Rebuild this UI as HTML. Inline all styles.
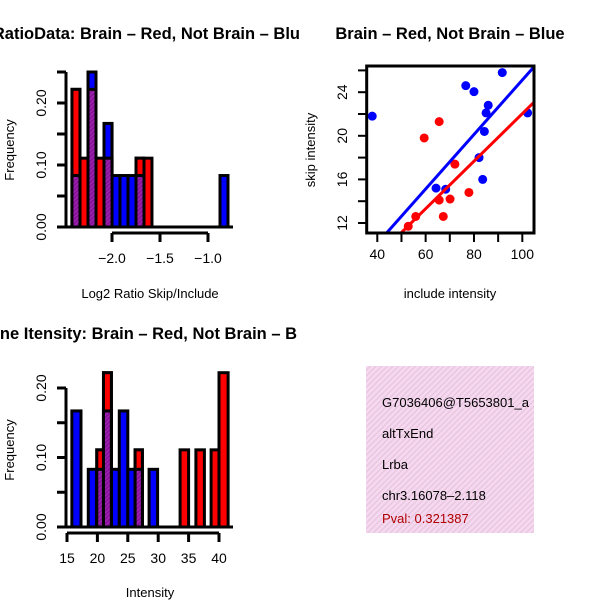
<!DOCTYPE html>
<html><head><meta charset="utf-8"><style>
html,body{margin:0;padding:0;background:#fff;}
svg{display:block;font-family:"Liberation Sans",sans-serif;}
</style></head><body>
<svg id="chart" width="600" height="600" viewBox="0 0 600 600">
<defs>
<clipPath id="leftclip"><rect x="0" y="0" width="300" height="600"/></clipPath>
<clipPath id="scclip"><rect x="367" y="66" width="167" height="167"/></clipPath>
<pattern id="hatch" width="4" height="4" patternUnits="userSpaceOnUse" patternTransform="rotate(45)">
<rect width="4" height="4" fill="#f6d8f2"/><rect width="1.5" height="4" fill="#e8c8dc"/></pattern>
<pattern id="purp" width="3" height="3" patternUnits="userSpaceOnUse" patternTransform="rotate(45)">
<rect width="3" height="3" fill="#a020b0"/><rect width="1.2" height="3" fill="#7a1090"/></pattern>
</defs>
<g clip-path="url(#leftclip)">
<text x="300" y="39" font-size="16.5" font-weight="bold" text-anchor="end">RatioData: Brain – Red, Not Brain – Blu</text>
<text x="297" y="339" font-size="16.5" font-weight="bold" text-anchor="end">Gene Itensity: Brain – Red, Not Brain – B</text>
</g>
<text x="450" y="39" font-size="16.5" font-weight="bold" text-anchor="middle">Brain – Red, Not Brain – Blue</text>
<g id="h1"></g>
<g id="h2"></g>
<g id="sc"></g>
<g>
<rect x="366" y="366" width="168" height="167" fill="url(#hatch)"/>
<svg x="366" y="366" width="168" height="167">
<text x="16" y="41" font-size="13">G7036406@T5653801_a</text>
<text x="16" y="72" font-size="13">altTxEnd</text>
<text x="16" y="103" font-size="13">Lrba</text>
<text x="16" y="134" font-size="13">chr3.16078–2.118</text>
<text x="16" y="157" font-size="13" fill="#b00000">Pval: 0.321387</text>
</svg>
</g>
</svg>
<script>
// Ratio histogram data
const r1Left=[-2.417,-2.333,-2.25,-2.167,-2.083,-1.75,-1.667];
const r1Freq=[0.222,0.111,0.222,0.111,0.111,0.111,0.111];
const b1Left=[-2.417,-2.25,-2.083,-2.0,-1.917,-1.833,-1.75,-0.875];
const b1Freq=[0.083,0.25,0.167,0.083,0.083,0.083,0.083,0.083];
const h1Width=0.0833;
const h1XTicks=[-2.0,-1.5,-1.0];
const h1YTicks=[0,0.05,0.10,0.15,0.20,0.25];
const h1YLabels=["0.00","","0.10","","0.20",""];
// Intensity histogram data
const r2Left=[19.9,21.0,26.2,33.6,36.2,38.7,40.0];
const r2Right=[21.0,22.3,27.4,35.0,37.6,40.0,41.5];
const r2Freq=[0.111,0.222,0.111,0.111,0.111,0.111,0.222];
const b2Left=[15.8,18.5,19.9,21.0,22.3,23.6,25.0,26.2,28.5];
const b2Right=[17.3,19.9,21.0,22.3,23.6,25.0,26.2,27.4,29.9];
const b2Freq=[0.167,0.083,0.083,0.167,0.083,0.167,0.083,0.083,0.083];
const h2XTicks=[15,20,25,30,35,40];
const h2YTicks=[0,0.05,0.10,0.15,0.20];
const h2YLabels=["0.00","","0.10","","0.20"];
// Scatter data
const blueX=[37.9,91.7,76.6,80.0,85.9,85.0,102.2,84.3,82.1,83.6,64.3,68.3];
const blueY=[21.8,25.8,24.6,24.05,22.8,22.1,22.1,20.4,18.0,16.0,15.2,15.1];
const redX=[59.4,65.6,72.1,77.9,65.6,70.1,67.3,55.9,52.8];
const redY=[19.8,21.3,17.4,14.8,14.1,14.2,12.6,12.6,11.7];
const blueFit=[0.12,0.25];
const redFit=[0.23,0.218];
const scXTicks=[40,50,60,70,80,90,100];
const scXLabels=["40","","60","","80","","100"];
const scYTicks=[12,14,16,18,20,22,24,26];
const scYLabels=["12","","16","","20","","24",""];

const NS="http://www.w3.org/2000/svg";
function mk(p,t,a){const e=document.createElementNS(NS,t);for(const k in a)e.setAttribute(k,a[k]);p.appendChild(e);return e;}

function hist(g,o){
  const sx=v=>o.x0+(v-o.v0)*o.kx, sy=v=>o.y0-v*o.ky;
  const draw=(lefts,rights,freqs,col,name)=>{
    lefts.forEach((l,i)=>{
      const r=rights[i], f=freqs[i];
      const b=mk(g,'rect',{x:sx(l),y:sy(f),width:sx(r)-sx(l),height:sy(0)-sy(f),fill:col,stroke:'#000','stroke-width':3});
      
      
    });
  };
  draw(o.rl,o.rr,o.rf,'#ff0000','red');
  draw(o.bl,o.br,o.bf,'#0000ff','blue');
  o.rl.forEach((l,i)=>{
    o.bl.forEach((bl,j)=>{
      if(Math.abs(bl-l)<0.01){
        const m=Math.min(o.rf[i],o.bf[j]); const tallRed=o.rf[i]>o.bf[j];
        const hi=Math.max(o.rf[i],o.bf[j]);
        const c=mk(g,'rect',{x:sx(l),y:sy(hi),width:sx(o.rr[i])-sx(l),height:sy(0)-sy(hi),fill:tallRed?'#ff0000':'#0000ff',stroke:'#000','stroke-width':3});
        
        
        const p=mk(g,'rect',{x:sx(l),y:sy(m),width:sx(o.rr[i])-sx(l),height:sy(0)-sy(m),fill:'url(#purp)',stroke:'#000','stroke-width':3});
        
        
      }
    });
  });
  mk(g,'line',{x1:o.bx0,x2:o.bx1,y1:sy(0),y2:sy(0),stroke:'#000','stroke-width':3});
  const yt=o.yt;
  mk(g,'line',{x1:66,x2:66,y1:sy(yt[0]),y2:sy(yt[yt.length-1]),stroke:'#000','stroke-width':3});
  yt.forEach((v,i)=>{
    mk(g,'line',{x1:57,x2:66,y1:sy(v),y2:sy(v),stroke:'#000','stroke-width':3});
    if(o.yl[i]){const t=mk(g,'text',{x:46,y:sy(v),'font-size':14,'text-anchor':'middle',transform:`rotate(-90 46 ${sy(v)})`});t.textContent=o.yl[i];
      }
  });
  const xt=o.xt, ay=sy(0)+6;
  mk(g,'line',{x1:sx(xt[0]),x2:sx(xt[xt.length-1]),y1:ay,y2:ay,stroke:'#000','stroke-width':3});
  xt.forEach(v=>{
    mk(g,'line',{x1:sx(v),x2:sx(v),y1:ay,y2:ay+9,stroke:'#000','stroke-width':3});
    const t=mk(g,'text',{x:sx(v),y:ay+30,'font-size':14,'text-anchor':'middle'});t.textContent=o.fmt(v);
    
  });
  const xl=mk(g,'text',{x:150,y:o.xly,'font-size':13,'text-anchor':'middle'});xl.textContent=o.xlab;
  
  const yl=mk(g,'text',{x:14,y:o.ylc,'font-size':13,'text-anchor':'middle',transform:`rotate(-90 14 ${o.ylc})`});yl.textContent='Frequency';
  
}
const w1=b1Left.map(l=>l+h1Width), rr1=r1Left.map(l=>l+h1Width);
hist(document.getElementById('h1'),{x0:112,v0:-2.0,kx:96,y0:227,ky:620,rl:r1Left,rr:rr1,rf:r1Freq,bl:b1Left,br:w1,bf:b1Freq,
  bx0:57,bx1:233,yt:h1YTicks,yl:h1YLabels,xt:h1XTicks,fmt:v=>v.toFixed(1).replace('-','\u2212'),xlab:'Log2 Ratio Skip/Include',xly:298,ylc:150});
hist(document.getElementById('h2'),{x0:67,v0:15,kx:6.08,y0:527,ky:695,rl:r2Left,rr:r2Right,rf:r2Freq,bl:b2Left,br:b2Right,bf:b2Freq,
  bx0:57,bx1:233,yt:h2YTicks,yl:h2YLabels,xt:h2XTicks,fmt:v=>String(v),xlab:'Intensity',xly:597,ylc:450});

(function(){
  const g=document.getElementById('sc');
  const sx=v=>377.3+(v-40)*2.417, sy=v=>223-(v-12)*10.9;
  const pts=mk(g,'g',{'clip-path':'url(#scclip)'});
  const pt=(xs,ys,col,name)=>xs.forEach((x,i)=>{const c=mk(pts,'circle',{cx:sx(x),cy:sy(ys[i]),r:4.5,fill:col});
    });
  pt(blueX,blueY,'#0000ff','blue');pt(redX,redY,'#ff0000','red');
  const ln=(f,col,name)=>{const l=mk(pts,'line',{x1:sx(30),y1:sy(f[0]+f[1]*30),x2:sx(110),y2:sy(f[0]+f[1]*110),stroke:col,'stroke-width':3});
    };
  ln(blueFit,'#0000ff','blue-fit-line');ln(redFit,'#ff0000','red-fit-line');
  mk(g,'rect',{x:366.7,y:66,width:167.3,height:167,fill:'none',stroke:'#000','stroke-width':3});
  scXTicks.forEach((v,i)=>{mk(g,'line',{x1:sx(v),x2:sx(v),y1:233,y2:242,stroke:'#000','stroke-width':2});
    if(scXLabels[i]){const t=mk(g,'text',{x:sx(v),y:259,'font-size':14,'text-anchor':'middle'});t.textContent=scXLabels[i];
      }});
  scYTicks.forEach((v,i)=>{mk(g,'line',{x1:358,x2:367,y1:sy(v),y2:sy(v),stroke:'#000','stroke-width':2});
    if(scYLabels[i]){const t=mk(g,'text',{x:347,y:sy(v),'font-size':14,'text-anchor':'middle',transform:`rotate(-90 347 ${sy(v)})`});t.textContent=scYLabels[i];
      }});
  const xl=mk(g,'text',{x:450,y:298,'font-size':13,'text-anchor':'middle'});xl.textContent='include intensity';
  
  const yl=mk(g,'text',{x:315,y:150,'font-size':13,'text-anchor':'middle',transform:'rotate(-90 315 150)'});yl.textContent='skip intensity';
  
})();
</script>
</body></html>
